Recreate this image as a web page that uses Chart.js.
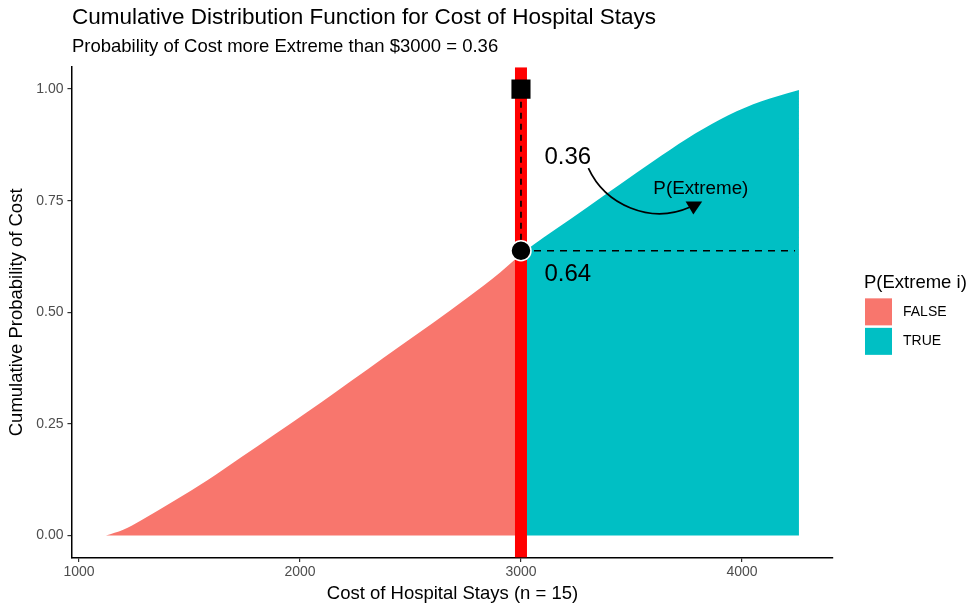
<!DOCTYPE html>
<html>
<head>
<meta charset="utf-8">
<script src="https://cdn.jsdelivr.net/npm/chart.js@4.4.1/dist/chart.umd.min.js"></script>
<style>
  body { margin: 0; background: #fff; }
  #wrap { width: 976px; height: 615px; }
</style>
</head>
<body>
<div id="wrap"><canvas id="cdf" width="976" height="615"></canvas></div>
<script>
// values
var costBelow = [1122, 1200, 1280, 1431, 1581, 1732, 1883, 2033, 2154, 2305, 2455, 2606, 2756, 2907, 3000];
var probBelow = [0.000, 0.013, 0.034, 0.078, 0.124, 0.175, 0.226, 0.277, 0.319, 0.372, 0.425, 0.478, 0.532, 0.590, 0.630];
var costAbove = [3000, 3058, 3150, 3299, 3449, 3600, 3751, 3901, 4051, 4202, 4258];
var probAbove = [0.630, 0.652, 0.684, 0.735, 0.787, 0.839, 0.889, 0.932, 0.966, 0.990, 0.998];
var seriesNames = ['FALSE', 'TRUE'];
var seriesColors = ['#F8766D', '#00BFC4'];
var xTicks = [1000, 2000, 3000, 4000];
var yTicks = [0, 0.25, 0.5, 0.75, 1];
var threshold = 3000;
var pAt = 0.638;
var pExtreme = 0.36;
var xRange = [968, 4412];
var yRange = [-0.049, 1.049];

var FONT = '"Liberation Sans", Arial, Helvetica, sans-serif';

function pts(xs, ys) {
    return xs.map(function(x, i) { return {x: x, y: ys[i]}; });
}

// annotations, the curved arrow and the legend
var notes = {
    id: 'notes',
    afterDatasetsDraw: function(chart) {
        var ctx = chart.ctx;
        var sx = chart.scales.x, sy = chart.scales.y;
        function X(v) { return sx.getPixelForValue(v); }
        function Y(v) { return sy.getPixelForValue(v); }
        ctx.save();
        ctx.fillStyle = '#000';
        ctx.textBaseline = 'middle';
        ctx.textAlign = 'left';
        ctx.font = '24px ' + FONT;
        ctx.fillText(pExtreme.toFixed(2), X(3106), Y(0.848));
        ctx.fillText((1 - pExtreme).toFixed(2), X(3106), Y(0.584));
        ctx.font = '18.8px ' + FONT;
        ctx.textAlign = 'center';
        ctx.fillText('P(Extreme)', X(3814), Y(0.776));

        ctx.strokeStyle = '#000';
        ctx.lineWidth = 1.7;
        ctx.beginPath();
        ctx.moveTo(X(3305), Y(0.823));
        ctx.bezierCurveTo(X(3381), Y(0.741), X(3585), Y(0.696), X(3766), Y(0.736));
        ctx.stroke();
        ctx.beginPath();
        ctx.moveTo(X(3745), Y(0.748));
        ctx.lineTo(X(3820), Y(0.748));
        ctx.lineTo(X(3780), Y(0.719));
        ctx.closePath();
        ctx.fill();
        ctx.restore();
    },
    afterDraw: function(chart) {
        var ctx = chart.ctx, a = chart.chartArea;
        var lx = a.right + 32, mid = (a.top + a.bottom) / 2;
        ctx.save();
        ctx.textBaseline = 'middle';
        ctx.textAlign = 'left';
        ctx.fillStyle = '#000';
        ctx.font = '18.5px ' + FONT;
        ctx.fillText('P(Extreme i)', lx - 1, mid - 29);
        ctx.font = '14px ' + FONT;
        seriesNames.forEach(function(name, i) {
            var top = mid - 14 + i * 29.5;
            ctx.fillStyle = seriesColors[i];
            ctx.fillRect(lx, top, 27, 27);
            ctx.fillStyle = '#000';
            ctx.fillText(name, lx + 38, top + 13.5);
        });
        ctx.restore();
    }
};

new Chart(document.getElementById('cdf'), {
    type: 'line',
    data: {
        datasets: [
            {   // square at top
                label: 'top', data: [{x: threshold, y: 1}], showLine: false,
                pointStyle: 'rect', pointRadius: 13.5, pointBackgroundColor: '#000',
                pointBorderColor: '#000', pointBorderWidth: 0, order: 1
            },
            {   // circle at the cut
                label: 'cut', data: [{x: threshold, y: pAt}], showLine: false,
                pointStyle: 'circle', pointRadius: 10, pointBackgroundColor: '#000',
                pointBorderColor: '#fff', pointBorderWidth: 1.5, order: 1
            },
            {
                label: 'vdash', data: [{x: threshold, y: pAt}, {x: threshold, y: 1}],
                borderColor: '#000', borderWidth: 1.7, borderDash: [6, 5], pointRadius: 0, order: 2
            },
            {
                label: 'hdash', data: [{x: threshold, y: pAt}, {x: 4240, y: pAt}],
                borderColor: '#000', borderWidth: 1.7, borderDash: [7, 6], pointRadius: 0, order: 2
            },
            {
                label: 'redline', data: [{x: threshold, y: yRange[0]}, {x: threshold, y: yRange[1]}],
                borderColor: '#ff0000', borderWidth: 12, pointRadius: 0, order: 3
            },
            {
                label: seriesNames[0], data: pts(costBelow, probBelow),
                borderWidth: 0, borderColor: seriesColors[0], backgroundColor: seriesColors[0],
                fill: 'origin', pointRadius: 0, cubicInterpolationMode: 'monotone', order: 5
            },
            {
                label: seriesNames[1], data: pts(costAbove, probAbove),
                borderWidth: 0, borderColor: seriesColors[1], backgroundColor: seriesColors[1],
                fill: 'origin', pointRadius: 0, cubicInterpolationMode: 'monotone', order: 5
            }
        ]
    },
    options: {
        responsive: false,
        animation: false,
        devicePixelRatio: 1,
        layout: { padding: { left: 6, right: 143, top: 0, bottom: 10 } },
        plugins: {
            title: {
                display: true, align: 'start', fullSize: false,
                text: 'Cumulative Distribution Function for Cost of Hospital Stays',
                color: '#000', font: { family: FONT, size: 22.5, weight: 'normal' },
                padding: { top: 4, bottom: 2 }
            },
            subtitle: {
                display: true, align: 'start', fullSize: false,
                text: 'Probability of Cost more Extreme than $3000 = 0.36',
                color: '#000', font: { family: FONT, size: 18.5, weight: 'normal' },
                padding: { top: 3, bottom: 9 }
            },
            legend: { display: false },
            tooltip: { enabled: false }
        },
        scales: {
            x: {
                type: 'linear', min: xRange[0], max: xRange[1],
                afterBuildTicks: function(s) { s.ticks = xTicks.map(function(v) { return {value: v}; }); },
                grid: { drawOnChartArea: false, drawTicks: true, tickLength: 4.5, color: '#333', lineWidth: 1.2 },
                border: { color: '#000', width: 1.5 },
                ticks: { color: '#4d4d4d', font: { family: FONT, size: 14 }, padding: 2,
                         callback: function(v) { return String(v); } },
                title: { display: true, text: 'Cost of Hospital Stays (n = 15)', color: '#000',
                         font: { family: FONT, size: 18.5 }, padding: { top: 0, bottom: 0 } }
            },
            y: {
                type: 'linear', min: yRange[0], max: yRange[1],
                afterBuildTicks: function(s) { s.ticks = yTicks.map(function(v) { return {value: v}; }); },
                grid: { drawOnChartArea: false, drawTicks: true, tickLength: 4.5, color: '#333', lineWidth: 1.2 },
                border: { color: '#000', width: 1.5 },
                ticks: { color: '#4d4d4d', font: { family: FONT, size: 14 }, padding: 4,
                         callback: function(v) { return v.toFixed(2); } },
                title: { display: true, text: 'Cumulative Probability of Cost', color: '#000',
                         font: { family: FONT, size: 18.5 }, padding: { top: 0, bottom: 4 } }
            }
        }
    },
    plugins: [notes]
});
</script>
</body>
</html>
